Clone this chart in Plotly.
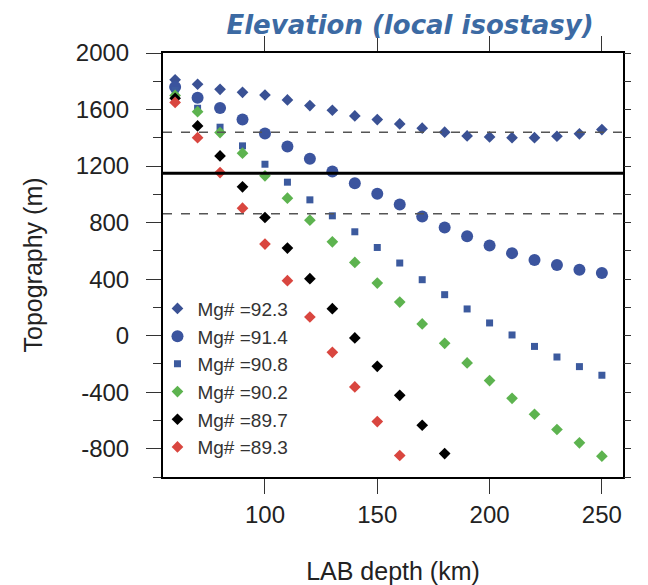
import plotly.graph_objects as go

# ---- data ----
lab_depth = [60, 70, 80, 90, 100, 110, 120, 130, 140, 150,
             160, 170, 180, 190, 200, 210, 220, 230, 240, 250]
mg923 = [1810, 1779, 1743, 1722, 1703, 1668, 1628, 1595, 1555, 1529,
         1498, 1468, 1440, 1413, 1406, 1401, 1401, 1411, 1428, 1458]
mg914 = [1760, 1684, 1611, 1529, 1430, 1338, 1251, 1161, 1079, 1004,
         928, 843, 765, 704, 638, 584, 535, 500, 466, 443]
mg908 = [1735, 1609, 1475, 1343, 1213, 1086, 961, 848, 735, 624,
         514, 396, 290, 189, 90, 5, -76, -151, -219, -280]
mg902 = [1700, 1585, 1437, 1291, 1131, 973, 817, 664, 518, 372,
         238, 83, -54, -193, -318, -443, -556, -664, -758, -853]
mg897 = [1680, 1484, 1272, 1053, 836, 620, 403, 191, -16, -217,
         -422, -634, -834]
mg893 = [1650, 1401, 1154, 902, 648, 389, 132, -118, -363, -608, -848]

series_names = ["Mg# =92.3", "Mg# =91.4", "Mg# =90.8",
                "Mg# =90.2", "Mg# =89.7", "Mg# =89.3"]
series_values = [mg923, mg914, mg908, mg902, mg897, mg893]
series_symbols = ["diamond", "circle", "square", "diamond", "diamond", "diamond"]
series_sizes = [9, 12, 7, 9, 9, 9]
series_colors = ["#3a5194", "#3b549e", "#3c5a9e", "#5db34f", "#000000", "#d9463f"]

ref_line = 1150
dash_lines = [1440, 862]

x_ticks = [100, 150, 200, 250]
y_major = [-800, -400, 0, 400, 800, 1200, 1600, 2000]
y_major_labels = ["-800", "-400", "0", "400", "800", "1200", "1600", "2000"]
y_minor_all = list(range(-1000, 2001, 200))

fig = go.Figure()
for name, vals, sym, sz, col in zip(series_names, series_values, series_symbols,
                                     series_sizes, series_colors):
    fig.add_trace(go.Scatter(
        x=lab_depth[:len(vals)], y=vals, mode="markers", name=name,
        marker=dict(symbol=sym, size=sz, color=col, line=dict(width=0)),
    ))

# invisible trace to anchor the right-hand tick axis
fig.add_trace(go.Scatter(x=[None], y=[None], yaxis="y2", showlegend=False,
                         hoverinfo="skip"))

fig.add_shape(type="line", xref="paper", x0=0, x1=1, yref="y",
              y0=ref_line, y1=ref_line, line=dict(color="black", width=3))
for d in dash_lines:
    fig.add_shape(type="line", xref="paper", x0=0, x1=1, yref="y",
                  y0=d, y1=d, line=dict(color="#555555", width=1.5, dash="dash"))

fig.update_layout(
    width=648, height=585,
    margin=dict(l=163, r=25, t=53, b=108, autoexpand=False),
    paper_bgcolor="white", plot_bgcolor="white",
    font=dict(family="Liberation Sans, Arial, sans-serif", color="#222222"),
    title=dict(text="<b><i>Elevation (local isostasy)</i></b>",
               x=410 / 648, xanchor="center", y=1 - 25 / 585, yanchor="middle",
               font=dict(family="DejaVu Sans", size=26, color="#3c6aa3")),
    showlegend=True,
    legend=dict(x=-0.012, y=0.442, xanchor="left", yanchor="top",
                bgcolor="rgba(0,0,0,0)", borderwidth=0,
                font=dict(size=19, color="#333333"),
                itemwidth=30, tracegroupgap=0),
    xaxis=dict(range=[54.6, 259.4], tickvals=x_ticks,
               ticks="outside", ticklen=15, tickwidth=1, tickcolor="#333",
               showline=True, linewidth=2, linecolor="black", mirror="ticks",
               showgrid=False, zeroline=False, automargin=False,
               tickfont=dict(size=24, color="#222"),
               title=dict(text="LAB depth (km)", font=dict(size=25, color="#222"),
                          standoff=38)),
    yaxis=dict(range=[-1000, 2000], tickvals=y_major, ticktext=y_major_labels,
               ticks="outside", ticklen=15, tickwidth=1, tickcolor="#333",
               minor=dict(tickvals=y_minor_all, ticks="outside", ticklen=8,
                          tickwidth=1, tickcolor="#333", showgrid=False),
               showline=True, linewidth=2, linecolor="black", mirror=True,
               showgrid=False, zeroline=False, automargin=False,
               ticklabelstandoff=12,
               tickfont=dict(size=24, color="#222"),
               title=dict(text="Topography (m)", font=dict(size=25, color="#222"),
                          standoff=26)),
    yaxis2=dict(range=[-1000, 2000], overlaying="y", side="right",
                tickvals=y_minor_all, showticklabels=False,
                ticks="outside", ticklen=7, tickwidth=1, tickcolor="#333",
                showline=False, showgrid=False, zeroline=False, automargin=False),
)

fig.write_html("out.html")
